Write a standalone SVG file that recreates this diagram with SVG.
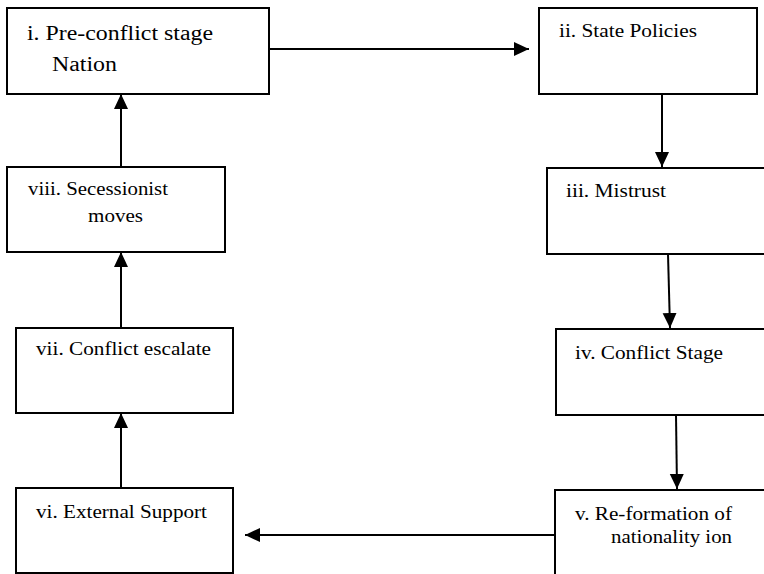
<svg xmlns="http://www.w3.org/2000/svg" width="764" height="574" viewBox="0 0 764 574">
<style>
.box{fill:#fff;stroke:#000;stroke-width:2}
.c{stroke:#000;stroke-width:2;fill:none;marker-end:url(#ah)}
</style>
<defs>
<marker id="ah" markerUnits="userSpaceOnUse" markerWidth="16" markerHeight="15" refX="15" refY="7" orient="auto">
<path d="M0,0 L15,7 L0,14 z" fill="#000"/>
</marker>
</defs>
<rect width="764" height="574" fill="#fff"/>
<g id="connectors">
<path class="c" d="M269,49 L529,49"/>
<path class="c" d="M662,94 L662,167"/>
<path class="c" d="M668,254 L670,328"/>
<path class="c" d="M676,415 L677,489"/>
<path class="c" d="M555,535 L245,535"/>
<path class="c" d="M121,488 L121,413"/>
<path class="c" d="M121,328 L121,252"/>
<path class="c" d="M121,167 L121,94"/>
</g>
<g font-family="Liberation Serif" font-size="19" fill="#000" lengthAdjust="spacingAndGlyphs">
<g id="n1">
<rect class="box" x="7" y="8" width="262" height="86"/>
<text x="27" y="40" font-size="20.5" textLength="186" lengthAdjust="spacingAndGlyphs">i. Pre-conflict stage</text>
<text x="52" y="71" font-size="20.5" textLength="65" lengthAdjust="spacingAndGlyphs">Nation</text>
</g>
<g id="n2">
<rect class="box" x="539" y="8" width="218" height="86"/>
<text x="559" y="37" textLength="138" lengthAdjust="spacingAndGlyphs">ii. State Policies</text>
</g>
<g id="n3">
<rect class="box" x="547" y="168" width="230" height="86"/>
<text x="566" y="197" textLength="100" lengthAdjust="spacingAndGlyphs">iii. Mistrust</text>
</g>
<g id="n4">
<rect class="box" x="556" y="329" width="220" height="86"/>
<text x="575" y="359" textLength="148" lengthAdjust="spacingAndGlyphs">iv. Conflict Stage</text>
</g>
<g id="n5">
<rect class="box" x="555" y="490" width="220" height="100"/>
<text x="575" y="520" textLength="157" lengthAdjust="spacingAndGlyphs">v. Re-formation of</text>
<text x="611" y="543" textLength="121" lengthAdjust="spacingAndGlyphs">nationality ion</text>
</g>
<g id="n6">
<rect class="box" x="16" y="488" width="217" height="85"/>
<text x="36" y="518" textLength="171" lengthAdjust="spacingAndGlyphs">vi. External Support</text>
</g>
<g id="n7">
<rect class="box" x="16" y="328" width="217" height="85"/>
<text x="36" y="355" textLength="175" lengthAdjust="spacingAndGlyphs">vii. Conflict escalate</text>
</g>
<g id="n8">
<rect class="box" x="7" y="167" width="218" height="85"/>
<text x="28" y="195" textLength="140" lengthAdjust="spacingAndGlyphs">viii. Secessionist</text>
<text x="88" y="222" textLength="55" lengthAdjust="spacingAndGlyphs">moves</text>
</g>
</g>
</svg>
